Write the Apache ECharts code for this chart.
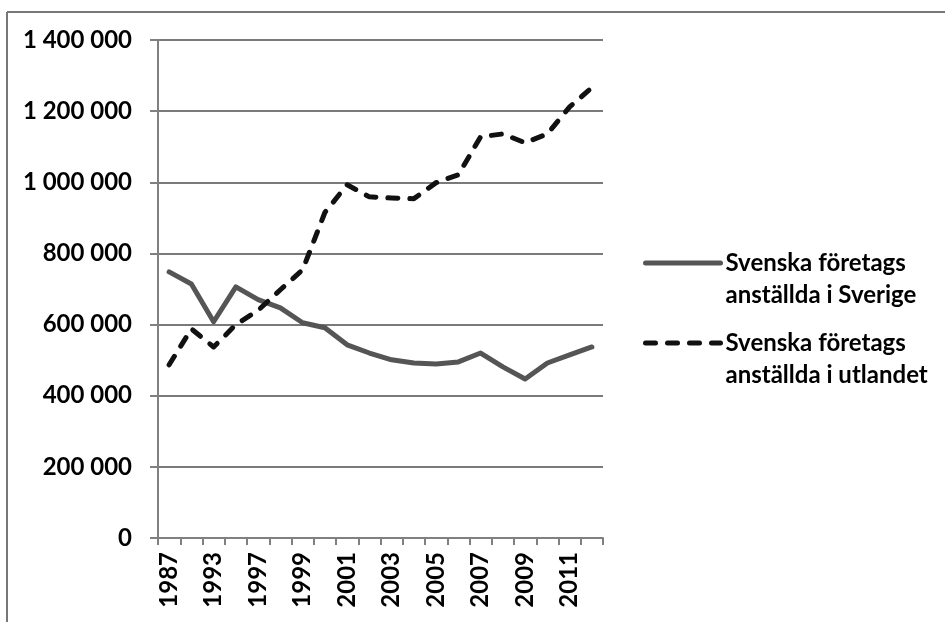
<!DOCTYPE html>
<html>
<head>
<meta charset="utf-8">
<script src="https://cdn.jsdelivr.net/npm/echarts@6/dist/echarts.min.js"></script>
<style>
  html, body { margin: 0; padding: 0; background: #fff; }
  #chart { width: 945px; height: 622px; }
</style>
</head>
<body>
<div id="chart"></div>
<script>
// years on the x axis (only every other one gets a label)
var years = ['1987', '1990', '1993', '1995', '1997', '1998', '1999', '2000', '2001', '2002',
             '2003', '2004', '2005', '2006', '2007', '2008', '2009', '2010', '2011', '2012'];

// employees of Swedish companies in Sweden
var iSverige = [748000, 714000, 608000, 706000, 670000, 647000, 605000, 591000, 543000, 520000,
                501000, 492000, 489000, 495000, 520000, 481000, 447000, 492000, 515000, 537000];

// employees of Swedish companies abroad
var iUtlandet = [487000, 588000, 537000, 600000, 640000, 698000, 754000, 915000, 993000, 959000,
                 956000, 954000, 999000, 1021000, 1128000, 1136000, 1111000, 1136000, 1212000, 1266000];

var seriesNames = ['Svenska företags\nanställda i Sverige', 'Svenska företags\nanställda i utlandet'];

var font = 'Lato';

function fmt(v) {
    return String(v).replace(/\B(?=(\d{3})+(?!\d))/g, ' ');
}

var chart = echarts.init(document.getElementById('chart'), null, { renderer: 'canvas' });

chart.setOption({
    animation: false,
    backgroundColor: '#fff',
    grid: { left: 158, right: 342, top: 40, bottom: 84, containLabel: false },
    legend: {
        orient: 'vertical',
        left: 638,
        top: 214,
        itemWidth: 75,
        itemHeight: 14,
        itemGap: -8,
        itemStyle: { color: 'rgba(0,0,0,0)', borderWidth: 0 },
        lineStyle: { width: 5, cap: 'round' },
        formatter: function (name) {
            var parts = name.split('\n');
            return '{a| }\n{a|' + parts[0] + '}\n{a|' + parts[1] + '}';
        },
        textStyle: {
            rich: {
                a: { fontFamily: font, fontSize: 24, fontWeight: 'bold', color: '#000', lineHeight: 32 }
            }
        },
        data: seriesNames
    },
    xAxis: {
        type: 'category',
        data: years,
        boundaryGap: true,
        axisLine: { lineStyle: { color: '#808080', width: 2 } },
        axisTick: { show: true, interval: 0, length: 7, lineStyle: { color: '#808080', width: 2 } },
        axisLabel: {
            interval: 1,
            rotate: 90,
            margin: 14,
            fontFamily: font,
            fontSize: 24,
            fontWeight: 'bold',
            color: '#000'
        }
    },
    yAxis: {
        type: 'value',
        min: 0,
        max: 1400000,
        interval: 200000,
        axisLine: { show: true, lineStyle: { color: '#808080', width: 2 } },
        axisTick: { show: true, length: 8, lineStyle: { color: '#808080', width: 2 } },
        splitLine: { lineStyle: { color: '#7a7a7a', width: 2 } },
        axisLabel: {
            margin: 26,
            fontFamily: font,
            fontSize: 24,
            fontWeight: 'bold',
            color: '#000',
            formatter: fmt
        }
    },
    series: [
        {
            name: seriesNames[0],
            type: 'line',
            data: iSverige,
            showSymbol: false,
            symbol: 'none',
            lineStyle: { color: '#555555', width: 5, cap: 'round', join: 'round' },
            itemStyle: { color: '#555555' }
        },
        {
            name: seriesNames[1],
            type: 'line',
            data: iUtlandet,
            showSymbol: false,
            symbol: 'none',
            lineStyle: { color: '#111111', width: 5, type: [10, 12], cap: 'round', join: 'round' },
            itemStyle: { color: '#111111' }
        }
    ],
    graphic: [
        { type: 'line', shape: { x1: 7, y1: 12, x2: 945, y2: 12 }, style: { stroke: '#777', lineWidth: 2 } },
        { type: 'line', shape: { x1: 7, y1: 12, x2: 7, y2: 622 }, style: { stroke: '#777', lineWidth: 2 } }
    ]
});
</script>
</body>
</html>
